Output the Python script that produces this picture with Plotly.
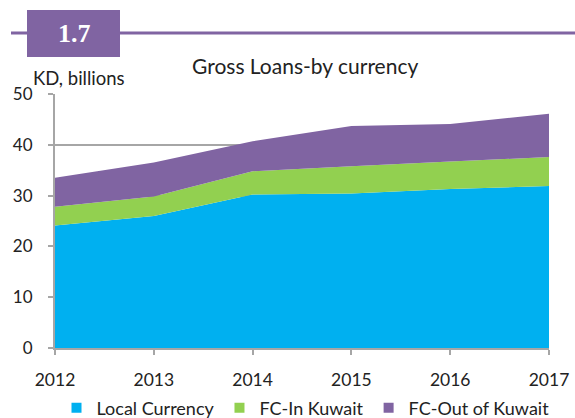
import plotly.graph_objects as go

years = [2012, 2013, 2014, 2015, 2016, 2017]
local_currency = [24.1, 26.0, 30.2, 30.4, 31.3, 31.9]
fc_in_kuwait = [3.7, 3.8, 4.6, 5.4, 5.4, 5.7]
fc_out_kuwait = [5.7, 6.7, 5.9, 7.9, 7.4, 8.5]

names = ["Local Currency", "FC-In Kuwait", "FC-Out of Kuwait"]
colors = ["#00B0F0", "#92D050", "#8064A2"]
series = [local_currency, fc_in_kuwait, fc_out_kuwait]

fig = go.Figure()
for n, c, s in zip(names, colors, series):
    fig.add_trace(go.Scatter(x=years, y=s, name=n, stackgroup="one", mode="none",
                             fillcolor=c, line=dict(width=0), showlegend=False))
for n, c in zip(names, colors):
    fig.add_trace(go.Scatter(x=[None], y=[None], name=n, mode="markers",
                             marker=dict(symbol="square", size=10, color=c)))

W, H = 575, 418
L, R, T, B = 55, 26, 94, 70
pw, ph = W - L - R, H - T - B

def px(x):
    return (x - L) / pw

def py(y):
    return (H - B - y) / ph

GRID = "#A6A6A6"
fig.update_layout(
    width=W, height=H,
    margin=dict(l=L, r=R, t=T, b=B),
    paper_bgcolor="white", plot_bgcolor="white",
    font=dict(family="Lato, Open Sans, sans-serif", size=17, color="#222222"),
    showlegend=True,
    legend=dict(orientation="h", x=305.5 / W, xanchor="center", xref="container",
                y=(H - 408) / H, yanchor="middle", yref="container",
                font=dict(size=18), traceorder="normal", bgcolor="rgba(0,0,0,0)"),
    xaxis=dict(range=[2012, 2017], tickvals=years, showgrid=False, showline=True,
               linecolor=GRID, linewidth=2, ticks="outside", ticklen=5,
               tickcolor=GRID, tickwidth=2, zeroline=False, automargin=False,
               ticklabelstandoff=10, tickfont=dict(size=17.5)),
    yaxis=dict(range=[0, 50], dtick=10, showgrid=True, gridcolor=GRID, gridwidth=2,
               showline=True, linecolor=GRID, linewidth=2, ticks="outside",
               ticklen=5, tickcolor=GRID, tickwidth=2, zeroline=False,
               automargin=False, ticklabelstandoff=12, tickfont=dict(size=17)),
    shapes=[
        dict(type="line", xref="paper", yref="paper", x0=px(11), x1=px(575),
             y0=py(33), y1=py(33), line=dict(color="#8064A2", width=3)),
        dict(type="rect", xref="paper", yref="paper", x0=px(27), x1=px(120),
             y0=py(57), y1=py(10), fillcolor="#8064A2", line=dict(width=0)),
    ],
    annotations=[
        dict(text="<b>1.7</b>", xref="paper", yref="paper", x=px(74), y=py(34),
             xanchor="center", yanchor="middle", showarrow=False,
             font=dict(family="Liberation Serif, DejaVu Serif, serif", size=26, color="white")),
        dict(text="Gross Loans-by currency", xref="paper", yref="paper", x=px(304.5), y=py(65),
             xanchor="center", yanchor="middle", showarrow=False, font=dict(size=21)),
        dict(text="KD, billions", xref="paper", yref="paper", x=px(31), y=py(78),
             xanchor="left", yanchor="middle", showarrow=False, font=dict(size=18.5)),
    ],
)

fig.write_html("out.html", config={"displayModeBar": False},
               post_script="document.body.style.margin='0';")
